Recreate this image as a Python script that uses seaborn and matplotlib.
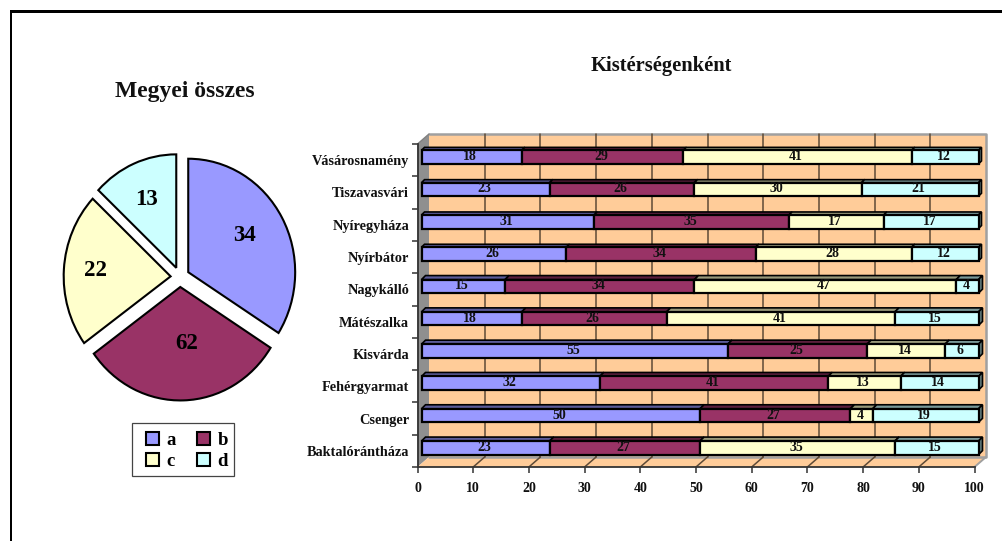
import matplotlib
matplotlib.use("Agg")
import matplotlib.pyplot as plt
from matplotlib.patches import Polygon, Rectangle
from matplotlib.transforms import Affine2D
import numpy as np
import pandas as pd
import seaborn as sns

# values
telepulesek = ['Vásárosnamény', 'Tiszavasvári', 'Nyíregyháza', 'Nyírbátor', 'Nagykálló',
               'Mátészalka', 'Kisvárda', 'Fehérgyarmat', 'Csenger', 'Baktalórántháza']
a_vals = [18, 23, 31, 26, 15, 18, 55, 32, 50, 23]
b_vals = [29, 26, 35, 34, 34, 26, 25, 41, 27, 27]
c_vals = [41, 30, 17, 28, 47, 41, 14, 13, 4, 35]
d_vals = [12, 21, 17, 12, 4, 15, 6, 14, 19, 15]
sorozat = ['a', 'b', 'c', 'd']

# the pie wedges are drawn at 31 for b, the picture prints 62 on it
pie_vals = [34, 31, 22, 13]
pie_labels = ['34', '62', '22', '13']

szinek = ['#9999FF', '#993366', '#FFFFCC', '#CCFFFF']
W, H = 1002, 541

sns.set_theme(style='white')
plt.rcParams['font.family'] = ['Liberation Serif', 'DejaVu Serif']
plt.rcParams['font.weight'] = 'bold'

fig = plt.figure(figsize=(W / 100, H / 100), dpi=100, facecolor='white')


def box(x0, y0, x1, y1):
    # pixel box (y from the top) -> figure fractions
    return [x0 / W, 1 - y1 / H, (x1 - x0) / W, (y1 - y0) / H]


# frame, only top and left
fig.add_artist(Rectangle((9.5 / W, 0), 2.8 / W, 1 - 10 / H, transform=fig.transFigure, color='black', lw=0))
fig.add_artist(Rectangle((9.5 / W, 1 - 12.5 / H), 1, 2.6 / H, transform=fig.transFigure, color='black', lw=0))

# ---- pie
ax_pie = fig.add_axes(box(41, 129.5, 319, 424.5))
wedges, _ = ax_pie.pie(pie_vals, colors=szinek, startangle=90, counterclock=False,
                       explode=[0.088] * 4, radius=1,
                       wedgeprops=dict(edgecolor='black', linewidth=1.5))
ax_pie.set_aspect('auto')
ax_pie.set_xlim(-1.3, 1.3)
ax_pie.set_ylim(-1.3, 1.3)
ax_pie.axis('off')

# text distance from the tip of each wedge, plus a small pixel nudge
pie_text_r = [0.64, 0.48, 0.72, 0.66]
pie_text_nudge = [(-4, 2), (5, -2), (2, 1), (-2, 0)]
for w, s, r, n in zip(wedges, pie_labels, pie_text_r, pie_text_nudge):
    ang = np.deg2rad((w.theta1 + w.theta2) / 2)
    cx, cy = w.center
    ax_pie.text(cx + r * np.cos(ang), cy + r * np.sin(ang), s, ha='center', va='center',
                transform=ax_pie.transData + Affine2D().translate(*n),
                fontsize=16.5, fontweight='bold', color='black')

# legend, with its frame drawn apart because the side padding is wider than the top one
fig.add_artist(Rectangle((131.5 / W, 1 - 476 / H), 102.5 / W, 53 / H, transform=fig.transFigure,
                         facecolor='white', edgecolor='#444444', lw=0.9, zorder=-1))
leg = ax_pie.legend(handles=[wedges[0], wedges[2], wedges[1], wedges[3]], labels=['a', 'c', 'b', 'd'],
                    ncol=2, loc='center', bbox_to_anchor=(187 / W, 1 - 451 / H),
                    bbox_transform=fig.transFigure, frameon=False, labelcolor='black',
                    prop=dict(family='Liberation Serif', weight='bold', size=13.5),
                    handlelength=0.68, handleheight=0.68, handletextpad=0.42, columnspacing=1.14,
                    labelspacing=0.2, borderpad=0, borderaxespad=0)
for h in leg.get_patches():
    h.set_edgecolor('black')
    h.set_linewidth(1.5)

fig.text(185 / W, 1 - 91 / H, 'Megyei összes', ha='center', va='center', fontsize=17, fontweight='bold', color='#111111')
fig.text(661 / W, 1 - 66 / H, 'Kistérségenként', ha='center', va='center', fontsize=14.8, fontweight='bold', color='#111111')

# ---- stacked bars, axes = front plane of the fake 3d box
ax = fig.add_axes(box(417.5, 144, 974.5, 467))
ax.patch.set_visible(False)

df = pd.DataFrame({'kisterseg': telepulesek, 'a': a_vals, 'b': b_vals, 'c': c_vals, 'd': d_vals})
bal = np.zeros(len(df))
balok = []
for s, szin in zip(sorozat, szinek):
    sns.barplot(data=df, x=s, y='kisterseg', orient='h', color=szin, left=bal, width=0.42,
                saturation=1, edgecolor='black', linewidth=1.6, ax=ax, zorder=5)
    balok.append(bal.copy())
    bal = bal + df[s].values

ax.set_xlim(0, 100)
ax.set_ylim(9.5, -0.5)

px_x = 557 / 100
px_y = 323 / 10

fal = ax.transData + Affine2D().translate(11.5, 10)
oszlop = ax.transData + Affine2D().translate(4, 3)
for p in ax.patches:
    p.set_transform(oszlop)
    p.set_clip_on(False)

# walls and floor
ax.add_patch(Rectangle((0, -0.5), 100, 10, transform=fal, facecolor='#FFCC99', edgecolor='none', zorder=1, clip_on=False))
mx = 11.5 / px_x
my = 10 / px_y
ax.add_patch(Polygon([(0, -0.5), (mx, -0.5 - my), (mx, 9.5 - my), (0, 9.5)], facecolor='#8F8F8F', edgecolor='none', zorder=1, clip_on=False))
ax.add_patch(Polygon([(0, 9.5), (mx, 9.5 - my), (100 + mx, 9.5 - my), (100, 9.5)], facecolor='#FFCC99', edgecolor='none', zorder=1, clip_on=False))
ax.plot([mx, 100 + mx, 100 + mx, mx], [-0.5 - my, -0.5 - my, 9.5 - my, 9.5 - my], color='#A0A0A0', lw=1.8, zorder=2, clip_on=False)
ax.plot([100, 100 + mx], [9.5, 9.5 - my], color='#A0A0A0', lw=1.4, zorder=2, clip_on=False)
ax.plot([0, mx], [-0.5, -0.5 - my], color='#808080', lw=1, zorder=2, clip_on=False)

# gridlines on the back wall and floor
for t in range(10, 100, 10):
    ax.plot([t + mx, t + mx], [-0.5 - my, 9.5 - my], color='#5E4A36', lw=1.1, zorder=2, clip_on=False)
for t in range(10, 100, 10):
    ax.plot([t, t + mx], [9.5, 9.5 - my], color='#5E4A36', lw=1.1, zorder=2, clip_on=False)

# bar depth, top and right faces (upper four rows are a pixel flatter in the picture)
sor_melyseg = [3, 3, 3, 3, 4, 4, 4, 4, 4, 4]
sx = 4 / px_x
sy = 3 / px_y
for i in range(len(df)):
    dx = sor_melyseg[i] / px_x
    dy = sor_melyseg[i] / px_y
    y0 = i - 0.21 - sy
    y1 = i + 0.21 - sy
    for j, s in enumerate(sorozat):
        x0 = balok[j][i] + sx
        x1 = x0 + df[s].values[i]
        sot = tuple(np.array(matplotlib.colors.to_rgb(szinek[j])) * 0.6)
        ax.add_patch(Polygon([(x0, y0), (x0 + dx, y0 - dy), (x1 + dx, y0 - dy), (x1, y0)], facecolor=sot,
                             edgecolor='black', lw=1.2, zorder=4, clip_on=False))
    x1 = 100 + sx
    sot = tuple(np.array(matplotlib.colors.to_rgb(szinek[3])) * 0.5)
    ax.add_patch(Polygon([(x1, y0), (x1 + dx, y0 - dy), (x1 + dx, y1 - dy), (x1, y1)], facecolor=sot,
                         edgecolor='black', lw=1.2, zorder=4, clip_on=False))

# value labels
szoveg = ax.transData + Affine2D().translate(2.5, 3.5)
for j, s in enumerate(sorozat):
    for i, v in enumerate(df[s].values):
        ax.text(balok[j][i] + v / 2, i, str(v), transform=szoveg, ha='center', va='center', fontsize=10,
                fontweight='bold', color='#111111', zorder=8, clip_on=False)

# axes, ticks
sns.despine(ax=ax, top=True, right=True)
for sp in ['left', 'bottom']:
    ax.spines[sp].set_color('#333333')
    ax.spines[sp].set_linewidth(1.3)
    ax.spines[sp].set_zorder(3)
ax.set_xlabel('')
ax.set_ylabel('')
ax.set_xticks(range(0, 101, 10))
ax.set_yticks(range(len(df)), telepulesek)
ax.set_yticks(np.arange(-0.5, 10, 1), minor=True)
ax.tick_params(axis='x', length=4.5, width=1.1, color='#333333', pad=6, labelsize=10, bottom=True)
ax.tick_params(axis='y', which='major', length=0, pad=6, labelsize=10.3, left=False)
ax.tick_params(axis='y', which='minor', length=4.5, width=1.1, color='#333333', left=True)
for lab in ax.get_xticklabels() + ax.get_yticklabels():
    lab.set_fontweight('bold')
    lab.set_color('#111111')

fig.savefig('out.png', dpi=100, facecolor='white')
